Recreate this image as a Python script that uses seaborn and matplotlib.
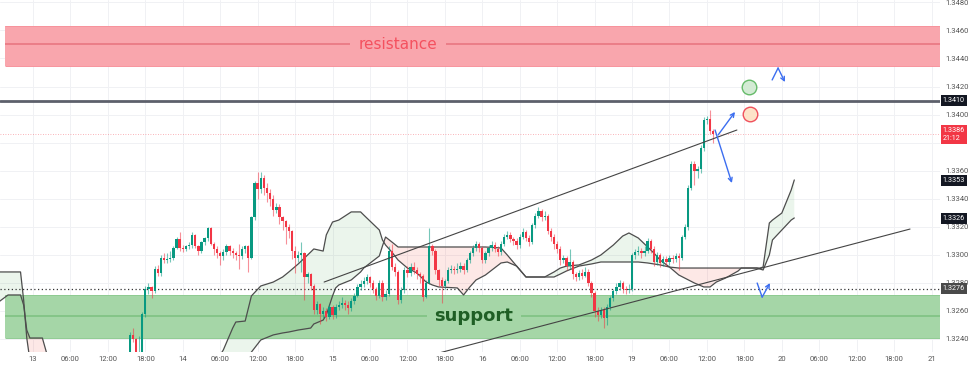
import numpy as np
import pandas as pd
import matplotlib.pyplot as plt
import seaborn as sns

# 30 minute bars, bar 0 = 13th 00:00 (weekend skipped). Prices in pips above 1.3200
bar_start = 31
first_open = 28
close_pips = [
    43, 40, 28, 31, 58, 76, 77, 74, 90, 87,
    98, 96, 97, 98, 105, 111, 105, 104, 106, 107,
    114, 106, 103, 109, 112, 119, 108, 104, 101, 99,
    102, 106, 103, 101, 100, 99, 104, 106, 98, 127,
    151, 147, 155, 148, 144, 140, 132, 134, 127, 124,
    120, 117, 103, 98, 100, 101, 84, 86, 78, 61,
    65, 58, 60, 56, 63, 57, 63, 64, 66, 64,
    62, 67, 71, 77, 79, 81, 84, 80, 76, 71,
    80, 70, 72, 103, 91, 88, 68, 75, 89, 87,
    91, 89, 86, 85, 70, 80, 106, 103, 89, 82,
    78, 81, 89, 90, 89, 90, 92, 89, 96, 101,
    105, 108, 105, 96, 101, 105, 107, 104, 102, 108,
    113, 114, 111, 110, 107, 113, 116, 112, 109, 121,
    128, 131, 127, 128, 117, 113, 108, 104, 96, 98,
    92, 95, 86, 84, 87, 85, 88, 80, 73, 60,
    57, 61, 55, 63, 69, 74, 77, 80, 76, 75,
    76, 100, 102, 103, 101, 103, 110, 104, 95, 100,
    94, 97, 95, 98, 97, 99, 98, 113, 120, 148,
    165, 160, 161, 176, 196, 197, 188, 186,
]
high_pips = [
    45, 48, 41, 42, 59, 78, 80, 78, 92, 93,
    100, 101, 101, 103, 106, 113, 116, 107, 107, 109,
    116, 115, 107, 110, 113, 120, 120, 109, 106, 103,
    104, 108, 107, 105, 103, 108, 106, 107, 107, 128,
    153, 159, 159, 157, 151, 147, 143, 137, 136, 128,
    125, 122, 118, 106, 103, 109, 102, 88, 87, 79,
    67, 66, 63, 62, 65, 64, 65, 67, 70, 68,
    67, 69, 73, 79, 82, 84, 86, 85, 82, 77,
    82, 82, 75, 106, 108, 94, 89, 77, 91, 92,
    94, 95, 91, 88, 86, 82, 119, 108, 104, 90,
    84, 83, 91, 93, 92, 94, 95, 94, 98, 103,
    107, 110, 109, 106, 103, 107, 110, 109, 106, 110,
    115, 117, 116, 113, 112, 115, 119, 118, 114, 123,
    130, 134, 133, 131, 129, 119, 115, 110, 106, 100,
    99, 104, 96, 88, 89, 90, 91, 90, 81, 74,
    63, 63, 63, 65, 71, 76, 80, 82, 81, 78,
    79, 101, 104, 106, 105, 106, 112, 111, 106, 102,
    101, 99, 99, 100, 100, 101, 101, 114, 122, 150,
    167, 167, 163, 178, 198, 199, 203, 190,
]
low_pips = [
    22, 38, 24, 26, 30, 56, 72, 69, 73, 85,
    85, 94, 94, 95, 96, 104, 103, 102, 103, 104,
    105, 105, 100, 101, 107, 110, 107, 100, 98, 93,
    96, 100, 100, 98, 96, 90, 97, 101, 88, 97,
    125, 140, 144, 143, 138, 135, 128, 130, 122, 118,
    108, 112, 97, 87, 95, 88, 68, 80, 75, 58,
    58, 51, 55, 53, 54, 54, 55, 61, 62, 61,
    58, 60, 65, 70, 75, 77, 79, 77, 73, 68,
    69, 67, 68, 71, 89, 85, 65, 66, 73, 84,
    85, 86, 83, 80, 67, 69, 79, 100, 86, 78,
    66, 76, 80, 87, 86, 87, 88, 86, 88, 94,
    99, 103, 102, 94, 94, 99, 103, 102, 99, 100,
    106, 111, 109, 107, 104, 105, 111, 110, 106, 108,
    119, 126, 124, 125, 115, 110, 104, 101, 93, 94,
    89, 90, 83, 81, 82, 83, 84, 78, 70, 56,
    53, 55, 48, 50, 61, 67, 72, 75, 73, 72,
    73, 74, 97, 100, 98, 99, 101, 101, 92, 93,
    91, 92, 92, 93, 94, 95, 89, 96, 111, 118,
    146, 150, 155, 158, 174, 193, 186, 180,
]

# ichimoku cloud (leading spans, shifted 26 bars ahead)
cloud_bar = [-11, -8, -4, -3, -2, -1, 3, 5, 9, 58, 61, 64, 65, 68, 70, 73, 77, 80, 82, 85,
             89, 90, 93, 94, 96, 97, 98, 102, 105, 106, 111, 112, 113, 115, 117, 120, 123, 126, 128, 130,
             136, 138, 140, 142, 145, 150, 152, 155, 158, 164, 167, 169, 171, 175, 179, 182, 186, 189, 191, 194,
             197, 199, 201, 204, 207, 212, 215, 217, 219, 222, 226, 227, 232, 233, 234, 236, 237, 240, 243, 244]
span_a = [87.8, 87.8, 87.8, 67.8, 40.7, 25, 25, 23.6, 21.5, 21.5, 32.2, 47.8, 52.1, 52.8, 70.7, 77.8, 80.6, 84.2, 87.8, 93.5,
          102.0, 104.2, 102.7, 114.2, 123.4, 124.1, 124.8, 130.6, 130.6, 128.4, 117.7, 110.6, 107.0, 102.0, 96.3, 90.6, 87.1, 80.6, 78.5, 77.1,
          76.4, 71.4, 77.1, 82.1, 85.6, 94.2, 94.9, 92.0, 84.2, 84.2, 87.8, 90.6, 92.0, 92.8, 96.3, 99.9, 107.0, 113.4, 115.6, 112.0,
          105.6, 101.3, 96.3, 91.3, 85.6, 79.9, 77.1, 77.1, 80.6, 83.5, 88.5, 90.6, 90.6, 90.6, 91.3, 122.7, 124.8, 129.8, 146.2, 153.4]
span_b = [66.4, 71.4, 71.4, 64.2, 46.4, 40.7, 40.7, 25, 22, 10.8, 14.3, 17.9, 19.3, 23.6, 30.7, 39.3, 42.9, 44.3, 45.0, 46.4,
          47.8, 50.7, 53.5, 57.1, 70.7, 76.4, 78.5, 82.1, 87.8, 90.6, 99.2, 106.3, 112.7, 109.2, 105.6, 105.6, 105.6, 105.6, 105.6, 105.6,
          105.6, 105.6, 105.6, 105.6, 105.6, 104.9, 99.9, 92.0, 84.2, 84.2, 84.2, 86.3, 88.5, 92.0, 93.5, 94.9, 94.9, 94.9, 94.9, 94.9,
          94.2, 93.5, 92.8, 91.3, 90.6, 90.6, 90.6, 90.6, 90.6, 90.6, 90.6, 90.6, 90.6, 89.9, 89.2, 99.9, 110.6, 117.7, 124.8, 126.3]

# drawn levels / zones
resistance = (234.7, 263.2, 250.0)
support = (40.7, 71.4, 56.4)
level_black = 1.3410
level_dotted = 1.3276
last_price = 1.3386
channel_up = ([93.3, 225.6], [80.6, 189.0])
channel_low = ([130.1, 281.1], [30.0, 118.4])

time_labels = ["13", "06:00", "12:00", "18:00", "14", "06:00", "12:00", "18:00",
               "15", "06:00", "12:00", "18:00", "16", "06:00", "12:00", "18:00",
               "19", "06:00", "12:00", "18:00", "20", "06:00", "12:00", "18:00", "21"]
price_ticks = [1.3240, 1.3260, 1.3280, 1.3300, 1.3320, 1.3340, 1.3360, 1.3380,
               1.3400, 1.3420, 1.3440, 1.3460, 1.3480]
hidden_ticks = [1.3380]  # covered by the last-price tag
price_boxes = [(1.3410, "1.3410", "#131722"), (1.3386, "1.3386\n21:12", "#f23645"),
               (1.3353, "1.3353", "#131722"), (1.3326, "1.3326", "#131722"),
               (1.3276, "1.3276", "#4a4a4a")]


def px(v):
    return 1.32 + np.asarray(v, dtype=float) / 1e4


GREEN = "#089981"
RED = "#f23645"
BLUE = "#3c6ef0"

sns.set_theme(style="white")
plt.rcParams['font.family'] = ['DejaVu Sans']

fig = plt.figure(figsize=(9.74, 3.66), dpi=100)
ax = fig.add_axes([0, 14 / 366, 940 / 974, 352 / 366])
x_left, x_right = -10.58, 290.7
ax.set_xlim(x_left, x_right)
ax.set_ylim(1.323073, 1.348170)

# zones
ax.fill_between([-9, x_right], px(resistance[0]), px(resistance[1]), color="#f9a6ad", lw=0, zorder=1)
ax.hlines([px(resistance[0]), px(resistance[1])], -9, x_right, color="#f7939c", lw=0.7, zorder=1)
ax.fill_between([-9, x_right], px(support[0]), px(support[1]), color="#a5d6a7", lw=0, zorder=1)
ax.hlines([px(support[0]), px(support[1])], -9, x_right, color="#8fcb92", lw=0.7, zorder=1)

res_x, sup_x = 117.0, 141.3
ax.hlines(px(resistance[2]), -9, res_x - 15.5, color="#e8737d", lw=1.1, zorder=1)
ax.hlines(px(resistance[2]), res_x + 15.5, x_right, color="#e8737d", lw=1.1, zorder=1)
ax.hlines(px(support[2]), -9, sup_x - 15, color="#7cc17f", lw=1.1, zorder=1)
ax.hlines(px(support[2]), sup_x + 15, x_right, color="#7cc17f", lw=1.1, zorder=1)
ax.text(res_x, px(resistance[2]), "resistance", color="#f4515f", fontsize=11,
        ha="center", va="center", zorder=2)
ax.text(sup_x, px(support[2]), "support", color="#1f5f25", fontsize=13, fontweight="bold",
        ha="center", va="center", zorder=2)

# cloud
cloud = pd.DataFrame({"bar": cloud_bar, "a": px(span_a), "b": px(span_b)})
ax.fill_between(cloud["bar"], cloud["a"], cloud["b"], where=cloud["a"] >= cloud["b"],
                interpolate=True, color="#43a047", alpha=0.1, lw=0, zorder=2)
ax.fill_between(cloud["bar"], cloud["a"], cloud["b"], where=cloud["a"] < cloud["b"],
                interpolate=True, color="#f44336", alpha=0.12, lw=0, zorder=2)
sns.lineplot(data=cloud, x="bar", y="a", ax=ax, color="#4d4d4d", lw=0.9, sort=False, zorder=2)
sns.lineplot(data=cloud, x="bar", y="b", ax=ax, color="#4d4d4d", lw=0.9, sort=False, zorder=2)

# horizontal levels
ax.axhline(level_black, color="#5d606b", lw=2, zorder=3)
ax.axhline(level_dotted, color="#333333", lw=0.9, ls=(0, (1, 2)), zorder=3)
ax.axhline(last_price, color="#f23645", lw=0.6, ls=(0, (1, 2)), alpha=0.5, zorder=3)

# candles
bars = np.arange(bar_start, bar_start + len(close_pips))
c = np.array(close_pips, dtype=float)
o = np.concatenate([[first_open], c[:-1]])
cols = np.where(c >= o, GREEN, RED)
ax.vlines(bars, px(low_pips), px(high_pips), colors=cols, lw=0.8, alpha=0.55, zorder=4)
ax.bar(bars, np.maximum(np.abs(c - o), 0.6) / 1e4, bottom=px(np.minimum(o, c)),
       width=0.74, color=cols, lw=0, zorder=5)

# channel lines
ax.plot(channel_up[0], px(channel_up[1]), color="#444444", lw=0.8, zorder=6)
ax.plot(channel_low[0], px(channel_low[1]), color="#444444", lw=0.8, zorder=6)

# scenario arrows and markers
arrow = dict(arrowstyle="->", color=BLUE, lw=1, mutation_scale=7, shrinkA=0, shrinkB=0)
ax.annotate("", xy=(225.0, px(201.9)), xytext=(219.6, px(185.5)), arrowprops=arrow, zorder=7)
ax.annotate("", xy=(224.0, px(151.2)), xytext=(218.6, px(189.0)), arrowprops=arrow, zorder=7)
ax.plot([236.9, 238.8], px([224.7, 233.2]), color=BLUE, lw=1, zorder=7)
ax.annotate("", xy=(241.0, px(223.2)), xytext=(238.8, px(233.2)), arrowprops=arrow, zorder=7)
ax.plot([232.1, 233.7], px([79.9, 69.9]), color=BLUE, lw=1, zorder=7)
ax.annotate("", xy=(236.2, px(79.9)), xytext=(233.7, px(69.9)), arrowprops=arrow, zorder=7)
ax.scatter([229.5], [px(219.7)], s=110, fc="#d3ebd4", ec="#66bb6a", lw=1, zorder=7)
ax.scatter([229.8], [px(200.4)], s=110, fc="#fde3c8", ec="#f0505c", lw=1, zorder=7)

# axes styling
for s in ax.spines.values():
    s.set_visible(False)
ax.set_axisbelow(True)
ax.grid(True, color="#f0f1f4", lw=0.7)
ax.set_xticks(np.arange(0, 12 * len(time_labels), 12))
ax.set_xticklabels(time_labels)
ax.yaxis.tick_right()
ax.set_yticks(price_ticks)
ax.set_yticklabels(["" if t in hidden_ticks else f"{t:.4f}" for t in price_ticks])
ax.tick_params(axis="both", length=0, labelsize=5.5, colors="#555555")
ax.tick_params(axis="y", pad=4)
ax.tick_params(axis="x", pad=3)
for lab in ax.get_yticklabels() + ax.get_xticklabels():
    lab.set_family(["Roboto", "DejaVu Sans"])
ax.set_xlabel("")
ax.set_ylabel("")

ytr = ax.get_yaxis_transform()
for price, label, colr in price_boxes:
    ax.text(1.003, price, label, transform=ytr, ha="left", va="center", fontsize=5.2,
            color="white", linespacing=1.15, family=["Roboto", "DejaVu Sans"],
            bbox=dict(boxstyle="square,pad=0.3", fc=colr, ec="none"), zorder=8, clip_on=False)

fig.savefig("out.png", dpi=100)
